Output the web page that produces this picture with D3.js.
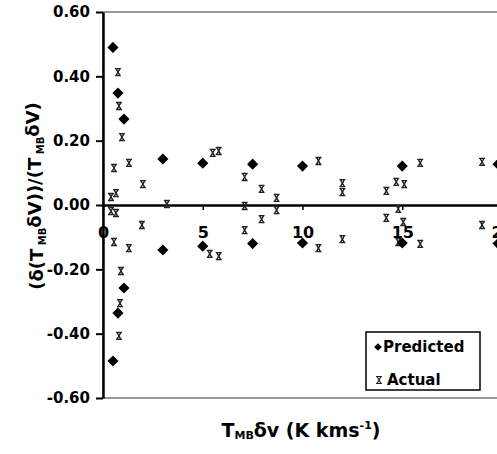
<!DOCTYPE html>
<html>
<head>
<meta charset="utf-8">
<script src="https://cdn.jsdelivr.net/npm/d3@7"></script>
<style>
  body { margin: 0; background: white; }
  text { font-family: "DejaVu Sans", Arial, sans-serif; font-weight: bold; fill: black; }
</style>
</head>
<body>
<div id="viz"></div>
<script>
// Predicted (diamonds)
const predX = [0.5, 0.75, 1.05, 3, 5, 7.5, 10, 15, 19.8,
               0.5, 0.75, 1.05, 3, 5, 7.5, 10, 15, 19.8];
const predY = [0.49, 0.348, 0.267, 0.143, 0.13, 0.127, 0.121, 0.121, 0.127,
               -0.485, -0.336, -0.258, -0.14, -0.128, -0.12, -0.118, -0.118, -0.12];

// Actual (x markers)
const actualX = [0.75, 0.8, 0.95, 0.55, 1.3, 2.0, 0.4, 0.65, 0.4, 0.65, 3.2, 5.5, 5.8,
                 1.95, 0.55, 1.3, 0.9, 0.85, 0.8, 5.35, 5.8,
                 7.1, 7.95, 8.7, 8.7, 7.95, 7.1, 7.1, 10.8, 10.8, 12.0, 12.0, 12.0,
                 14.2, 14.2, 14.7, 15.1, 14.8, 15.05, 14.8, 15.9, 15.9, 19.0, 19.0];
const actualY = [0.413, 0.308, 0.211, 0.115, 0.131, 0.065, 0.025, 0.037, -0.019, -0.025, 0.003, 0.162, 0.168,
                 -0.062, -0.115, -0.134, -0.205, -0.305, -0.407, -0.152, -0.159,
                 0.087, 0.05, 0.022, -0.016, -0.044, -0.078, -0.003, 0.137, -0.134, 0.068, 0.04, -0.106,
                 0.044, -0.04, 0.072, 0.065, -0.012, -0.053, -0.115, 0.131, -0.121, 0.134, -0.062];

const yTicks = [-0.6, -0.4, -0.2, 0, 0.2, 0.4, 0.6];
const xTicks = [0, 5, 10, 15, 20];
const seriesNames = ["Predicted", "Actual"];

const width = 497, height = 454;
const svg = d3.select("#viz").append("svg")
    .attr("width", width)
    .attr("height", height);

const x = d3.scaleLinear().domain([0, 20]).range([103, 502]);
const y = d3.scaleLinear().domain([-0.6, 0.6]).range([398, 12]);

// plot area frame (top and bottom visible)
svg.append("rect")
    .attr("x", x(0)).attr("y", y(0.6))
    .attr("width", x(20) + 10 - x(0)).attr("height", y(-0.6) - y(0.6))
    .attr("fill", "none")
    .attr("stroke", "#777")
    .attr("stroke-width", 1.5);

// y axis
const yAxis = svg.append("g")
    .attr("transform", `translate(${x(0)},0)`)
    .call(d3.axisLeft(y).tickValues(yTicks).tickSize(7).tickSizeOuter(0)
        .tickPadding(6).tickFormat(d => d.toFixed(2)));
yAxis.select(".domain").attr("stroke-width", 2.5);
yAxis.selectAll(".tick line").attr("stroke-width", 2);
yAxis.selectAll("text").style("font-size", "15px");

// x axis through zero
const xAxis = svg.append("g")
    .attr("transform", `translate(0,${y(0)})`)
    .call(d3.axisBottom(x).tickValues(xTicks).tickSize(5).tickSizeOuter(0)
        .tickPadding(17).tickFormat(d3.format("d")));
xAxis.select(".domain").attr("stroke-width", 2.5);
xAxis.selectAll(".tick line").attr("stroke-width", 1.5);
xAxis.selectAll("text").style("font-size", "16px");

// actual markers
const xMark = "M-3,-3.5H3M-3,3.5H3M-2,-3.5L2,3.5M2,-3.5L-2,3.5";
svg.append("g").selectAll("path")
    .data(actualX.map((v, i) => [v, actualY[i]]))
    .join("path")
    .attr("d", xMark)
    .attr("transform", d => `translate(${x(d[0])},${y(d[1])})`)
    .attr("stroke", "#222")
    .attr("stroke-width", 1.4)
    .attr("fill", "none");

// predicted diamonds
const diamond = d3.symbol(d3.symbolSquare, 62)();
svg.append("g").selectAll("path")
    .data(predX.map((v, i) => [v, predY[i]]))
    .join("path")
    .attr("d", diamond)
    .attr("transform", d => `translate(${x(d[0])},${y(d[1])}) rotate(45)`)
    .attr("fill", "black");

// legend
const legend = svg.append("g");
legend.append("rect")
    .attr("x", 366).attr("y", 332).attr("width", 114).attr("height", 58)
    .attr("fill", "white").attr("stroke", "black").attr("stroke-width", 1.5);
legend.append("path")
    .attr("d", d3.symbol(d3.symbolSquare, 30)())
    .attr("transform", "translate(378,347) rotate(45)")
    .attr("fill", "black");
legend.append("path")
    .attr("d", xMark)
    .attr("transform", "translate(379,380)")
    .attr("stroke", "#222").attr("stroke-width", 1.2).attr("fill", "none");
legend.selectAll("text.lab")
    .data(seriesNames)
    .join("text")
    .attr("class", "lab")
    .attr("x", (d, i) => i === 0 ? 383 : 387)
    .attr("y", (d, i) => i === 0 ? 347 : 380)
    .attr("dy", "0.36em")
    .style("font-size", "15px")
    .text(d => d);

// y axis title
const yt = svg.append("text")
    .attr("transform", "translate(37,196) rotate(-90)")
    .attr("text-anchor", "middle")
    .attr("dy", "0.35em")
    .style("font-size", "18px");
yt.append("tspan").text("(δ(T");
yt.append("tspan").attr("dy", "0.25em").style("font-size", "10px").text(" MB");
yt.append("tspan").attr("dy", "-0.25em").text("δV))/(T");
yt.append("tspan").attr("dy", "0.25em").style("font-size", "10px").text(" MB");
yt.append("tspan").attr("dy", "-0.25em").text("δV)");

// x axis title
const xt = svg.append("text")
    .attr("x", 301).attr("y", 437)
    .attr("text-anchor", "middle")
    .style("font-size", "19px");
xt.append("tspan").text("T");
xt.append("tspan").attr("dy", "2").style("font-size", "11px").text("MB");
xt.append("tspan").attr("dy", "-2").text("δv (K kms");
xt.append("tspan").attr("dy", "-8").style("font-size", "11px").text("-1");
xt.append("tspan").attr("dy", "8").text(")");
</script>
</body>
</html>
